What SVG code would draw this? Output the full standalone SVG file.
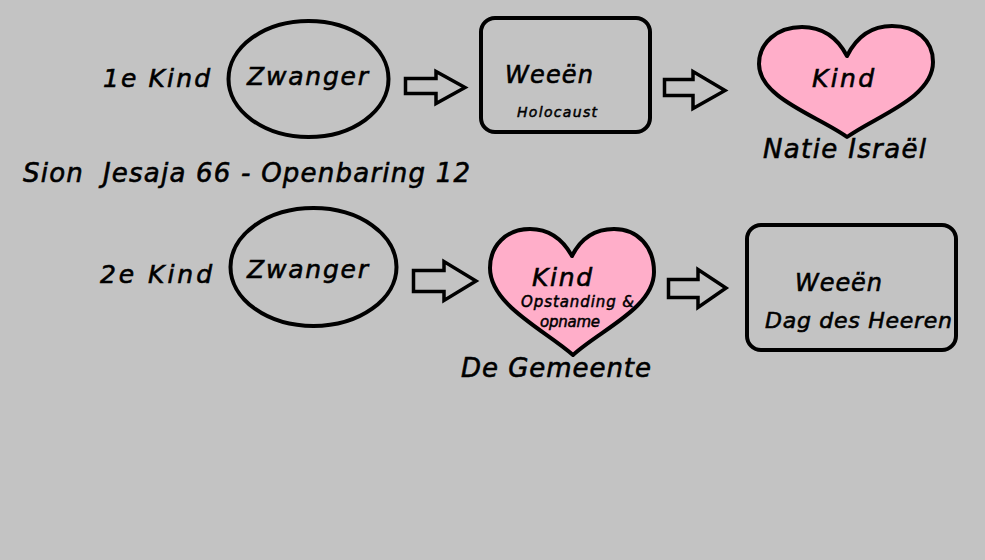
<svg xmlns="http://www.w3.org/2000/svg" width="985" height="560" viewBox="0 0 985 560">
<style>
.shape{fill:none;stroke:#000;stroke-width:4}
.heart{fill:#ffaec9;stroke:#000;stroke-width:4;stroke-linejoin:round}
.arrow{fill:none;stroke:#000;stroke-width:3.5;stroke-linejoin:miter}
text{font-family:"DejaVu Sans","Liberation Sans",sans-serif;font-style:italic;fill:#000;stroke:#000;stroke-width:0.6}
.big{font-size:25px}
.small{font-size:14px;stroke-width:0.5}
</style>
<rect x="0" y="0" width="985" height="560" fill="#c3c3c3"/>
<g id="labels">
<text class="big" x="103" y="87" textLength="107" lengthAdjust="spacing">1e Kind</text>
<text class="big" style="font-size:26px" xml:space="preserve" x="23" y="182" textLength="447" lengthAdjust="spacing">Sion  Jesaja 66 - Openbaring 12</text>
<text class="big" x="100" y="283" textLength="112" lengthAdjust="spacing">2e Kind</text>
</g>
<g id="zwanger1">
<ellipse class="shape" cx="308.5" cy="79" rx="80" ry="58"/>
<text class="big" x="247" y="85" textLength="121" lengthAdjust="spacing">Zwanger</text>
</g>
<g id="weeen1">
<rect class="shape" x="481" y="18" width="169" height="114" rx="14"/>
<text class="big" style="font-size:24px" x="505" y="83" textLength="88" lengthAdjust="spacing">Weeën</text>
<text class="small" x="517" y="117" textLength="80" lengthAdjust="spacing">Holocaust</text>
</g>
<g id="kind1">
<path class="heart" d="M847,56 C837,37 822,27 802,27 C777,27 759,43 759,64 C759,98 818,116 847,137 C876,116 933,98 933,62 C933,40 916,26 892,26 C870,26 856,38 847,56 Z"/>
<text class="big" x="812" y="87" textLength="62" lengthAdjust="spacing">Kind</text>
<text class="big" style="font-size:26px" x="763" y="158" textLength="163" lengthAdjust="spacing">Natie Israël</text>
</g>
<g id="zwanger2">
<ellipse class="shape" cx="313.5" cy="267" rx="83" ry="59"/>
<text class="big" x="247" y="278" textLength="121" lengthAdjust="spacing">Zwanger</text>
</g>
<g id="kind2">
<path class="heart" d="M572,256 C562,238 548,229 530,229 C506,229 490,246 490,268 C490,305 545,330 573,355 C600,330 654,308 654,272 C654,247 638,229 614,229 C594,229 580,240 572,256 Z"/>
<text class="big" x="532" y="286" textLength="60" lengthAdjust="spacing">Kind</text>
<text class="small" style="font-size:15px" x="521" y="307" textLength="113" lengthAdjust="spacing">Opstanding &amp;</text>
<text class="small" style="font-size:15px" x="540" y="327" textLength="60" lengthAdjust="spacing">opname</text>
<text class="big" style="font-size:26px" x="461" y="377" textLength="190" lengthAdjust="spacing">De Gemeente</text>
</g>
<g id="weeen2">
<rect class="shape" x="747" y="225" width="209" height="125" rx="14"/>
<text class="big" style="font-size:24px" x="795" y="291" textLength="87" lengthAdjust="spacing">Weeën</text>
<text class="big" style="font-size:22px" x="765" y="328" textLength="187" lengthAdjust="spacing">Dag des Heeren</text>
</g>
<g id="connectors">
<polygon class="arrow" points="405.5,78.5 436,78.5 436,71.5 465,87.5 436,103.5 436,93.5 405.5,93.5"/>
<polygon class="arrow" points="664.5,79.5 693,79.5 693,71.5 725,90.5 693,108.5 693,95.5 664.5,95.5"/>
<polygon class="arrow" points="413.5,270.5 444,270.5 444,261.5 476,281 444,300.5 444,291.5 413.5,291.5"/>
<polygon class="arrow" points="668.5,279.5 698,279.5 698,269.5 726,288 698,307.5 698,297.5 668.5,297.5"/>
</g>
</svg>
